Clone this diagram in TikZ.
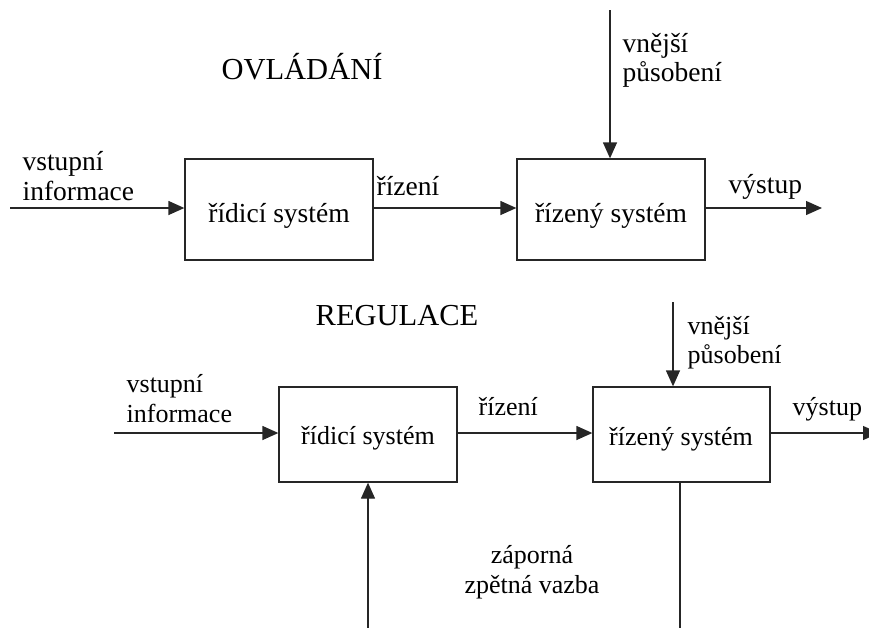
\documentclass[tikz,border=0pt]{standalone}
\usepackage{fontspec}
\setmainfont{Liberation Serif}
\usetikzlibrary{arrows.meta}
\begin{document}
\begin{tikzpicture}[x=1pt,y=-1pt,
  line width=1.3pt,
  flow/.style={draw=black!85, -{Triangle[length=16pt,width=14pt]}},
  plain/.style={draw=black!85},
  sysbox/.style={draw=black!85, line width=1.3pt, inner sep=0pt},
  toptext/.style={font=\fontsize{27.5}{30}\selectfont, inner sep=0pt},
  bottext/.style={font=\fontsize{26}{30}\selectfont, inner sep=0pt},
  title/.style={font=\fontsize{30.5}{34}\selectfont, inner sep=0pt}]
\useasboundingbox (0,0) rectangle (869,627);
\clip (0,0) rectangle (869,627);

% ---- open loop control ----
\node[title, anchor=base] (t1) at (302,79) {OVLÁDÁNÍ};
\node[sysbox, minimum width=188pt, minimum height=101pt] (c1) at (279,209.5) {};
\node[toptext, anchor=base] (c1t) at (279,222) {řídicí systém};
\node[sysbox, minimum width=188pt, minimum height=101pt] (p1) at (611,209.5) {};
\node[toptext, anchor=base] (p1t) at (611,222) {řízený systém};
\coordinate (in1) at (10,208);
\coordinate (d1) at (610,10);
\coordinate (out1) at (822,208);
\draw[flow] (in1) -- (in1 -| c1.west);
\draw[flow] (c1.east |- in1) -- (p1.west |- in1);
\draw[flow] (d1) -- (d1 |- p1.north);
\draw[flow] (p1.east |- in1) -- (out1);
\node[toptext, anchor=base west] (l1a) at (22,170) {vstupní};
\node[toptext, anchor=base west] (l1b) at (22,200) {informace};
\node[toptext, anchor=base west] (l1c) at (376,195) {řízení};
\node[toptext, anchor=base west] (l1d) at (622,52) {vnější};
\node[toptext, anchor=base west] (l1e) at (622,81) {působení};
\node[toptext, anchor=base west] (l1f) at (728,193) {výstup};

% ---- closed loop control ----
\node[title, anchor=base] (t2) at (397,325) {REGULACE};
\node[sysbox, minimum width=178pt, minimum height=95pt] (c2) at (368,434.5) {};
\node[bottext, anchor=base] (c2t) at (368,444) {řídicí systém};
\node[sysbox, minimum width=177pt, minimum height=95pt] (p2) at (681.5,434.5) {};
\node[bottext, anchor=base] (p2t) at (681,445) {řízený systém};
\coordinate (in2) at (114,433);
\coordinate (d2) at (673,302);
\coordinate (out2) at (879,433);
\coordinate (fb1) at (368,640);
\coordinate (fb2) at (680,640);
\draw[flow] (in2) -- (in2 -| c2.west);
\draw[flow] (c2.east |- in2) -- (p2.west |- in2);
\draw[flow] (d2) -- (d2 |- p2.north);
\draw[flow] (p2.east |- in2) -- (out2);
\draw[flow] (fb1) -- (fb1 |- c2.south);
\draw[plain] (fb2 |- p2.south) -- (fb2);
\node[bottext, anchor=base west] (l2a) at (126,392) {vstupní};
\node[bottext, anchor=base west] (l2b) at (126,422) {informace};
\node[bottext, anchor=base west] (l2c) at (478,415) {řízení};
\node[bottext, anchor=base west] (l2d) at (687,334) {vnější};
\node[bottext, anchor=base west] (l2e) at (687,363) {působení};
\node[bottext, anchor=base west] (l2f) at (792,415) {výstup};
\node[bottext, anchor=base] (l2g) at (532,563) {záporná};
\node[bottext, anchor=base] (l2h) at (532,593) {zpětná vazba};
\end{tikzpicture}
\end{document}
